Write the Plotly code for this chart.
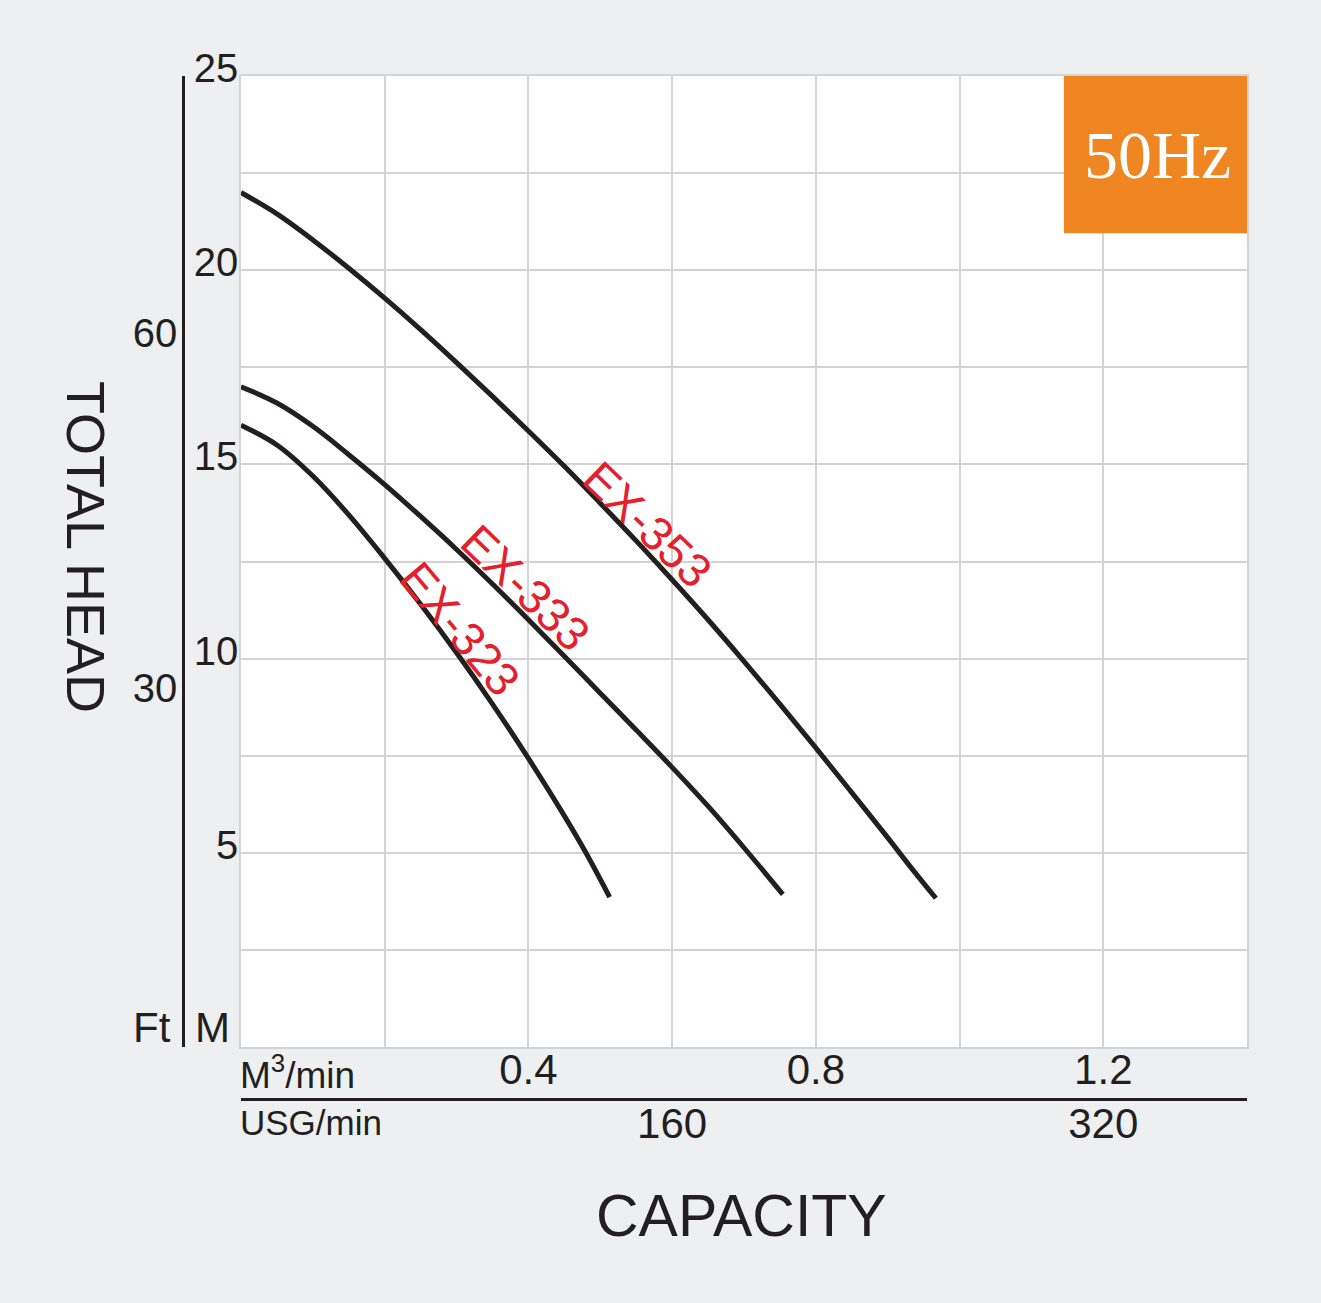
import plotly.graph_objects as go

# ---------------- data ----------------
ex353_flow = [0.0, 0.05, 0.1, 0.15, 0.2, 0.25, 0.3, 0.35, 0.4, 0.45, 0.5,
              0.55, 0.6, 0.65, 0.7, 0.75, 0.8, 0.85, 0.9, 0.935, 0.967]
ex353_head = [22.0, 21.45, 20.78, 20.05, 19.28, 18.47, 17.62, 16.75, 15.86, 14.95, 14.0,
              13.03, 12.03, 11.0, 9.93, 8.83, 7.7, 6.55, 5.39, 4.56, 3.83]

ex333_flow = [0.0, 0.05, 0.1, 0.15, 0.2, 0.25, 0.3, 0.35, 0.4, 0.45, 0.5,
              0.55, 0.6, 0.65, 0.7, 0.754]
ex333_head = [17.0, 16.58, 15.98, 15.25, 14.48, 13.66, 12.81, 11.92, 11.0, 10.06, 9.11,
              8.16, 7.2, 6.2, 5.13, 3.93]

ex323_flow = [0.0, 0.05, 0.1, 0.15, 0.2, 0.25, 0.3, 0.35, 0.4, 0.45, 0.48, 0.513]
ex323_head = [16.01, 15.5, 14.7, 13.7, 12.58, 11.4, 10.15, 8.83, 7.43, 5.95, 5.0, 3.86]

series_names = ["EX-353", "EX-333", "EX-323"]

m3_tickvals = [0.4, 0.8, 1.2]
m3_ticktext = ["0.4", "0.8", "1.2"]
m_tickvals = [5, 10, 15, 20, 25]
ft_tickvals = [30, 60]
usg_tickvals = [160, 320]

FT_PER_M = 3.2808
USG_PER_M3 = 160 / 0.6   # scale used on the reference sheet

# ---------------- styles ----------------
BG = "#eeeff1"
GRID = "#d3d3d3"
INK = "#231f20"
RED = "#e4202c"
ORANGE = "#ef8622"
FONT = "Liberation Sans, Arial, sans-serif"

W, H = 1321, 1303
ML, MR, MT, MB = 183, 74, 76, 204
PW = W - ML - MR
PH = H - MT - MB
xdom0 = 58 / PW
ydom0 = 52 / PH

fig = go.Figure()
for fx, hy in [(ex353_flow, ex353_head), (ex333_flow, ex333_head), (ex323_flow, ex323_head)]:
    fig.add_trace(go.Scatter(x=fx, y=hy, mode="lines",
                             line=dict(color=INK, width=5, shape="spline", smoothing=1.0),
                             showlegend=False, hoverinfo="skip"))
# empty trace to carry the secondary (Ft / USG) axes
fig.add_trace(go.Scatter(x=[None], y=[None], xaxis="x2", yaxis="y2",
                         showlegend=False, hoverinfo="skip"))

fig.update_layout(
    width=W, height=H,
    margin=dict(l=ML, r=MR, t=MT, b=MB, autoexpand=False),
    paper_bgcolor=BG, plot_bgcolor="white",
    font=dict(family=FONT, color=INK),
    xaxis=dict(domain=[xdom0, 1], range=[0, 1.4], tickmode="array",
               tickvals=m3_tickvals, ticktext=m3_ticktext,
               showgrid=True, gridcolor=GRID, gridwidth=1.5,
               minor=dict(tick0=0, dtick=0.2, showgrid=True, gridcolor=GRID,
                          gridwidth=1.5, ticks=""),
               showline=True, linecolor=GRID, linewidth=1.5, mirror=True,
               zeroline=False, ticks="", ticklabelstandoff=-15,
               tickfont=dict(size=42, family=FONT, color=INK), automargin=False),
    yaxis=dict(domain=[ydom0, 1], range=[0, 25], tickmode="array",
               tickvals=m_tickvals,
               showgrid=True, gridcolor=GRID, gridwidth=1.5,
               minor=dict(tick0=0, dtick=2.5, showgrid=True, gridcolor=GRID,
                          gridwidth=1.5, ticks=""),
               showline=True, linecolor=GRID, linewidth=1.5, mirror=True,
               zeroline=False, ticks="", ticklabelstandoff=-7, ticklabelshift=-8,
               tickfont=dict(size=40, family=FONT, color=INK), automargin=False),
    xaxis2=dict(domain=[xdom0, 1], range=[0, 1.4 * USG_PER_M3], overlaying="x",
                anchor="free", position=0, side="bottom", tickmode="array",
                tickvals=usg_tickvals, showgrid=False, zeroline=False,
                showline=True, linecolor=INK, linewidth=2.5, ticks="",
                ticklabelstandoff=-13,
                tickfont=dict(size=42, family=FONT, color=INK), automargin=False),
    yaxis2=dict(domain=[ydom0, 1], range=[0, 25 * FT_PER_M], overlaying="y",
                anchor="free", position=0, side="left", tickmode="array",
                tickvals=ft_tickvals, showgrid=False, zeroline=False,
                showline=True, linecolor=INK, linewidth=2.5, ticks="",
                ticklabelstandoff=-3, ticklabelshift=-4,
                tickfont=dict(size=40, family=FONT, color=INK), automargin=False),
)

# 50Hz badge
fig.add_shape(type="rect", xref="x domain", yref="y domain",
              x0=0.818, x1=1.0, y0=0.838, y1=1.0,
              fillcolor=ORANGE, line=dict(width=0), layer="above")
fig.add_annotation(text="50Hz", xref="x domain", yref="y domain", x=0.9115, y=0.919,
                   showarrow=False, xanchor="center", yanchor="middle",
                   font=dict(family="Liberation Serif, Times New Roman, serif", size=68, color="white"))

# curve labels
label_pos = [(0.566, 13.45, 44), (0.396, 11.82, 44), (0.305, 10.78, 50)]
for name, (lx, ly, ang) in zip(series_names, label_pos):
    fig.add_annotation(text=name, x=lx, y=ly, xref="x", yref="y", showarrow=False,
                       textangle=ang, xanchor="center", yanchor="middle",
                       font=dict(family=FONT, size=47, color=RED))

def py(p):
    return (H - MB - p) / PH

def px(p):
    return (p - ML) / PW

fig.add_annotation(text="Ft", xref="paper", yref="paper", x=px(173), y=py(1027),
                   xanchor="right", yanchor="middle", showarrow=False,
                   font=dict(size=42, family=FONT, color=INK))
fig.add_annotation(text="M", xref="paper", yref="paper", x=px(193), y=py(1027),
                   xanchor="left", yanchor="middle", showarrow=False,
                   font=dict(size=42, family=FONT, color=INK))
fig.add_annotation(text="M<sup>3</sup>/min", xref="x domain", yref="paper", x=-0.003, y=py(1072),
                   xanchor="left", yanchor="middle", showarrow=False,
                   font=dict(size=37, family=FONT, color=INK))
fig.add_annotation(text="USG/min", xref="x domain", yref="paper", x=-0.003, y=py(1122),
                   xanchor="left", yanchor="middle", showarrow=False,
                   font=dict(size=35, family=FONT, color=INK))
fig.add_annotation(text="CAPACITY", xref="x domain", yref="paper", x=0.498, y=py(1216),
                   xanchor="center", yanchor="middle", showarrow=False,
                   font=dict(size=59, family=FONT, color=INK))
fig.add_annotation(text="TOTAL HEAD", xref="paper", yref="paper", x=px(86), y=py(547),
                   xanchor="center", yanchor="middle", showarrow=False, textangle=90,
                   font=dict(size=54, family=FONT, color=INK))

fig.write_html("out.html",
               config={"displayModeBar": False},
               post_script="document.body.style.margin='0';"
                           "document.body.style.background='#eeeff1';")
